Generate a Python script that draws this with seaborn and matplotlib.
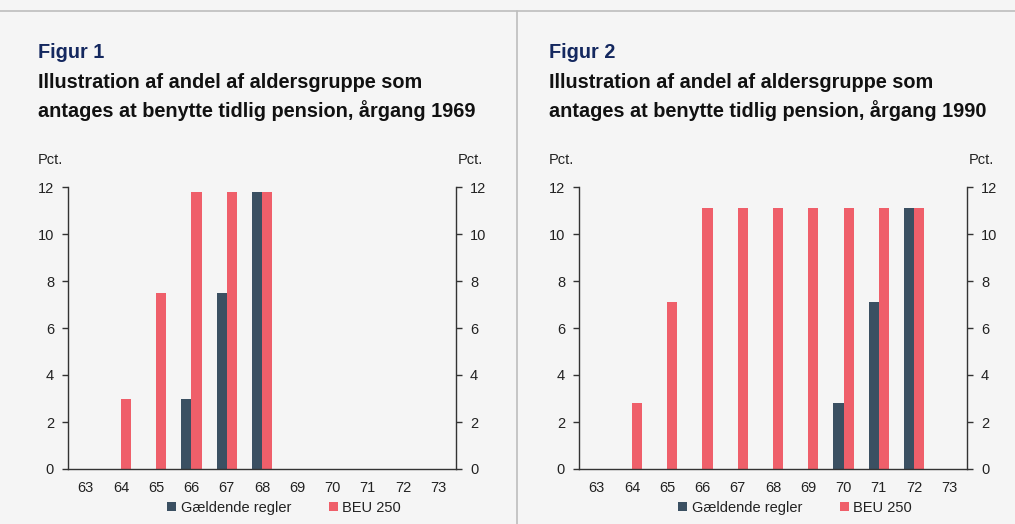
import numpy as np
import pandas as pd
import matplotlib
matplotlib.use("Agg")
import matplotlib.pyplot as plt
import seaborn as sns
from matplotlib.lines import Line2D
from matplotlib.patches import Patch

sns.set_theme(style="white")
plt.rcParams['font.family'] = ['Liberation Sans', 'DejaVu Sans']

ages = [63, 64, 65, 66, 67, 68, 69, 70, 71, 72, 73]
gaeldende_1969 = [0, 0, 0, 3.0, 7.5, 11.8, 0, 0, 0, 0, 0]
beu_1969 = [0, 3.0, 7.5, 11.8, 11.8, 11.8, 0, 0, 0, 0, 0]
gaeldende_1990 = [0, 0, 0, 0, 0, 0, 0, 2.8, 7.1, 11.1, 0]
beu_1990 = [0, 2.8, 7.1, 11.1, 11.1, 11.1, 11.1, 11.1, 11.1, 11.1, 0]
series_names = ["Gældende regler", "BEU 250"]
yticks = [0, 2, 4, 6, 8, 10, 12]
fig_labels = ["Figur 1", "Figur 2"]
title_line1 = "Illustration af andel af aldersgruppe som"
title_line2 = ["antages at benytte tidlig pension, årgang 1969",
               "antages at benytte tidlig pension, årgang 1990"]

DARK = "#3b5062"
RED = "#ef5f6a"
BG = "#f5f5f5"
AX = "#333333"

W, H = 1015, 524
fig = plt.figure(figsize=(W / 100, H / 100), dpi=100, facecolor=BG)

# frame lines
fig.add_artist(Line2D([0, 1], [1 - 11 / H, 1 - 11 / H], color="#bdbdbd", lw=1.2, transform=fig.transFigure))
fig.add_artist(Line2D([517 / W, 517 / W], [0, 1 - 11 / H], color="#bdbdbd", lw=1.2, transform=fig.transFigure))

panels = [(gaeldende_1969, beu_1969, 68), (gaeldende_1990, beu_1990, 579)]
for i, (g, b, left_px) in enumerate(panels):
    df = pd.DataFrame({
        "Alder": [str(a) for a in ages] * 2,
        "Pct": g + b,
        "Serie": [series_names[0]] * len(ages) + [series_names[1]] * len(ages),
    })
    ax = fig.add_axes([left_px / W, 1 - 469 / H, 388 / W, (469 - 187) / H])
    ax.set_facecolor(BG)
    sns.barplot(data=df, x="Alder", y="Pct", hue="Serie", palette=[DARK, RED],
                width=0.57, ax=ax, legend=False, saturation=1, linewidth=0)
    ax.set_xlim(-0.5, len(ages) - 0.5)
    ax.set_ylim(0, 12)
    ax.set_yticks(yticks)
    ax.set_xlabel("")
    ax.set_ylabel("")
    for s in ["left", "right", "bottom"]:
        ax.spines[s].set_visible(True)
        ax.spines[s].set_color(AX)
        ax.spines[s].set_linewidth(1.0)
    ax.spines["top"].set_visible(False)
    ax.set_xticks(np.arange(-0.5, len(ages), 1), minor=True)
    ax.tick_params(axis="x", which="major", length=0, pad=9, labelsize=10.5, colors="#222222")
    ax.tick_params(axis="x", which="minor", length=5, width=1, color=AX, direction="out")
    ax.tick_params(axis="y", which="major", left=True, right=True, labelleft=True, labelright=True,
                   length=4, width=1, color=AX, direction="out", labelsize=10.5, labelcolor="#222222", pad=6)
    ax.grid(False)

    fig.text(left_px / W - 30 / W, 1 - 160 / H, "Pct.", fontsize=10.5, color="#222222", va="center", ha="left")
    fig.text((left_px + 388) / W + 2 / W, 1 - 160 / H, "Pct.", fontsize=10.5, color="#222222", va="center", ha="left")

    tx = (38 if i == 0 else 549) / W
    fig.text(tx, 1 - 53 / H, fig_labels[i], fontsize=14.3, fontweight="bold", color="#14285f", va="center")
    fig.text(tx, 1 - 82 / H, title_line1, fontsize=14.3, fontweight="bold", color="#111111", va="center")
    fig.text(tx, 1 - 111 / H, title_line2[i], fontsize=14.3, fontweight="bold", color="#111111", va="center")

    handles = [Patch(facecolor=DARK, edgecolor="none"), Patch(facecolor=RED, edgecolor="none")]
    ax.legend(handles, series_names, loc="center", bbox_to_anchor=(0.557, (469 - 508) / (469 - 187)),
              ncol=2, frameon=False, fontsize=10.5, handlelength=0.6, handleheight=0.6,
              handletextpad=0.3, columnspacing=2.6, labelcolor="#222222")

fig.savefig("out.png", dpi=100, facecolor=BG)
